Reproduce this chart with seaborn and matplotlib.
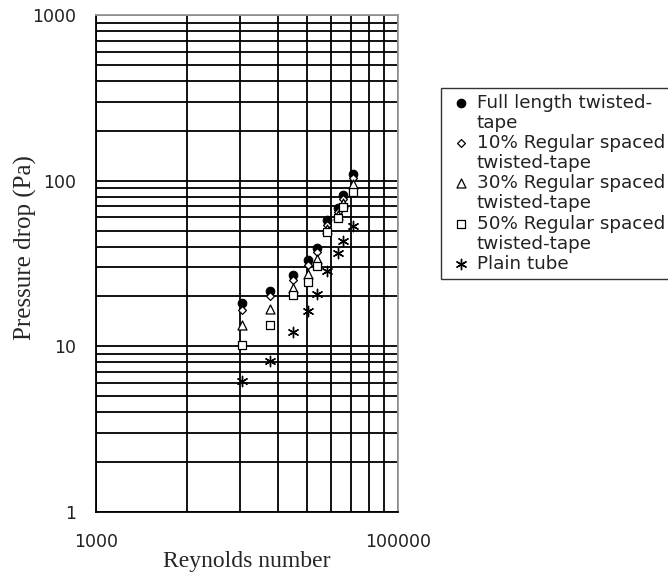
"""
Pressure drop vs Reynolds number for twisted-tape inserts
(log-log, Excel-style grid)
"""

import matplotlib
matplotlib.use("Agg")
import matplotlib.pyplot as plt
import seaborn as sns
import pandas as pd
from matplotlib.lines import Line2D
from matplotlib.ticker import FixedLocator, NullFormatter


# ─────────────────────────────────────────
# Data
# ─────────────────────────────────────────
reynolds = [9200, 14300, 20100, 25200, 29000, 33700, 40300, 43000, 50100]

full_length = [18.3, 21.7, 26.8, 33.1, 39.4, 57.7, 68.0, 82.4, 110.0]
regular_10 = [16.5, 20.0, 25.0, 31.0, 37.0, 54.0, 65.0, 77.0, 104.0]
regular_30 = [13.4, 16.9, 22.5, 27.5, 33.7, 51.0, 62.0, 73.0, 96.0]
regular_50 = [10.2, 13.4, 20.3, 24.4, 30.5, 48.8, 59.6, 69.5, 86.0]
plain_tube = [6.2, 8.1, 12.2, 16.3, 20.6, 28.4, 36.7, 43.1, 53.6]

series_names = [
    "Full length twisted-tape",
    "10% Regular spaced twisted-tape",
    "30% Regular spaced twisted-tape",
    "50% Regular spaced twisted-tape",
    "Plain tube",
]
# legend text as it is wrapped in the picture
legend_lines = [
    ["Full length twisted-", "tape"],
    ["10% Regular spaced", "twisted-tape"],
    ["30% Regular spaced", "twisted-tape"],
    ["50% Regular spaced", "twisted-tape"],
    ["Plain tube"],
]
series_values = [full_length, regular_10, regular_30, regular_50, plain_tube]

x_ticks = [1000, 100000]
x_tick_labels = ["1000", "100000"]
y_ticks = [1, 10, 100, 1000]
y_tick_labels = ["1", "10", "100", "1000"]
# odd Excel grid: vertical lines at k^2 * 1000
x_grid = [k * k * 1000 for k in range(2, 10)]
y_grid = [m * 10 ** e for e in range(0, 3) for m in range(2, 10)]


# ─────────────────────────────────────────
# Styles
# ─────────────────────────────────────────
styles = [
    dict(marker="o", s=38, facecolor="black", edgecolor="black", linewidth=0.8),
    dict(marker="D", s=16, facecolor="white", edgecolor="black", linewidth=0.9),
    dict(marker="^", s=42, facecolor="white", edgecolor="black", linewidth=0.9),
    dict(marker="s", s=38, facecolor="white", edgecolor="black", linewidth=0.9),
    dict(marker=(6, 2, 0), s=55, facecolor="black", edgecolor="black", linewidth=1.0),
]

sns.set_style("white")
plt.rcParams["font.family"] = ["DejaVu Sans"]

df = pd.DataFrame(
    [(name, re, dp) for name, vals in zip(series_names, series_values)
     for re, dp in zip(reynolds, vals)],
    columns=["series", "Re", "dp"],
)

fig = plt.figure(figsize=(6.68, 5.78), dpi=100)
ax = fig.add_axes([96 / 668, 1 - 512 / 578, 302 / 668, 497 / 578])

for name, st in zip(series_names, styles):
    sub = df[df["series"] == name]
    sns.scatterplot(data=sub, x="Re", y="dp", ax=ax, label=name, zorder=3, **st)

ax.set_xscale("log")
ax.set_yscale("log")
ax.set_xlim(1000, 100000)
ax.set_ylim(1, 1000)

ax.xaxis.set_major_locator(FixedLocator(x_ticks))
ax.xaxis.set_minor_locator(FixedLocator(x_grid))
ax.yaxis.set_major_locator(FixedLocator(y_ticks))
ax.yaxis.set_minor_locator(FixedLocator(y_grid))
ax.set_xticklabels(x_tick_labels)
ax.set_yticklabels(y_tick_labels)
ax.xaxis.set_minor_formatter(NullFormatter())
ax.yaxis.set_minor_formatter(NullFormatter())

ax.tick_params(which="major", direction="out", length=7, width=1.2, color="black",
               labelsize=12.5, labelcolor="#222222")
ax.tick_params(axis="x", which="major", pad=8)
ax.tick_params(axis="y", which="major", pad=7)
ax.tick_params(which="minor", length=0)

ax.grid(True, which="both", color="black", linewidth=1.3)
ax.set_axisbelow(True)

for side in ["left", "bottom"]:
    ax.spines[side].set_color("black")
    ax.spines[side].set_linewidth(1.3)
for side in ["top", "right"]:
    ax.spines[side].set_color("#9a9a9a")
    ax.spines[side].set_linewidth(1.3)

ax.set_xlabel("Reynolds number", family="Liberation Serif", fontsize=17)
ax.set_ylabel("Pressure drop (Pa)", family="Liberation Serif", fontsize=18)
ax.yaxis.set_label_coords(-0.232, 0.532)
ax.yaxis.label.set_verticalalignment("center")
ax.xaxis.set_label_coords(0.5, -0.078)

# legend: one row per printed line, marker only on the first line
handles, _ = ax.get_legend_handles_labels()
ax.get_legend().remove()
leg_handles, leg_labels = [], []
for h, lines in zip(handles, legend_lines):
    leg_handles.append(h)
    leg_labels.append(lines[0])
    for extra in lines[1:]:
        leg_handles.append(Line2D([], [], linestyle="none"))
        leg_labels.append(extra)

# the box runs off the right edge of the picture, as in the original
leg = fig.legend(
    leg_handles, leg_labels,
    loc="upper left",
    bbox_to_anchor=(441 / 668, 1 - 88 / 578),
    borderaxespad=0,
    frameon=True,
    fancybox=False,
    edgecolor="black",
    fontsize=13.2,
    handlelength=1.6,
    handletextpad=0.05,
    borderpad=0.3,
    labelspacing=0.12,
)
leg.get_frame().set_linewidth(1.0)
for t in leg.get_texts():
    t.set_color("#222222")

plt.savefig("out.png", dpi=100)
